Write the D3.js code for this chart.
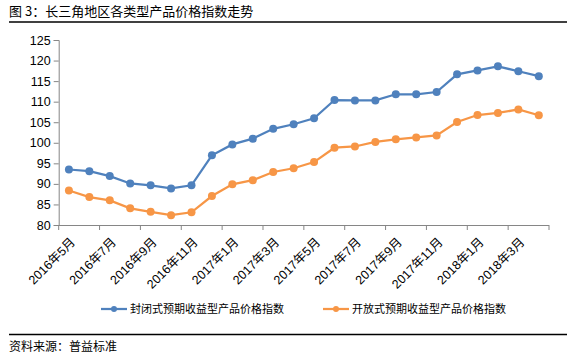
<!DOCTYPE html>
<html lang="zh">
<head>
<meta charset="UTF-8">
<title>长三角地区各类型产品价格指数走势</title>
<script src="https://d3js.org/d3.v7.min.js"></script>
<style>
  body { margin: 0; background: #fff; }
  svg text { font-family: "Noto Sans CJK SC", "Liberation Sans", sans-serif; }
</style>
</head>
<body>
<div id="chart"></div>
<script>
// months 2016-05 .. 2018-04
const months = [
  "2016年5月","2016年6月","2016年7月","2016年8月","2016年9月","2016年10月","2016年11月","2016年12月",
  "2017年1月","2017年2月","2017年3月","2017年4月","2017年5月","2017年6月","2017年7月","2017年8月",
  "2017年9月","2017年10月","2017年11月","2017年12月",
  "2018年1月","2018年2月","2018年3月","2018年4月"
];
const closedIdx = [93.5, 93.1, 91.9, 90.1, 89.65, 88.9, 89.65, 96.95,
  99.6, 101.0, 103.4, 104.5, 105.95, 110.4, 110.3, 110.3, 111.8, 111.8, 112.35, 116.65,
  117.6, 118.6, 117.4, 116.2];
const openIdx = [88.4, 86.8, 86.0, 84.05, 83.2, 82.4, 83.1, 87.05,
  89.9, 90.9, 92.9, 93.8, 95.3, 98.8, 99.1, 100.2, 100.85, 101.3, 101.8, 105.05,
  106.75, 107.25, 108.1, 106.7];
const seriesNames = ["封闭式预期收益型产品价格指数", "开放式预期收益型产品价格指数"];
const colors = ["#4F81BD", "#F79646"];
const yTicks = [80, 85, 90, 95, 100, 105, 110, 115, 120, 125];

const W = 580, H = 361;
const svg = d3.select("#chart").append("svg").attr("width", W).attr("height", H);

// title + rules
svg.append("text").attr("x", 9).attr("y", 16)
  .attr("font-size", 13).attr("fill", "#000")
  .text("图 3：长三角地区各类型产品价格指数走势");
svg.append("line").attr("x1", 9).attr("x2", 567).attr("y1", 22).attr("y2", 22)
  .attr("stroke", "#000").attr("stroke-width", 1.5);
svg.append("line").attr("x1", 9).attr("x2", 567).attr("y1", 334.5).attr("y2", 334.5)
  .attr("stroke", "#000").attr("stroke-width", 1.5);
svg.append("text").attr("x", 9).attr("y", 351)
  .attr("font-size", 12).attr("fill", "#000")
  .text("资料来源：普益标准");

// scales
const x = d3.scaleBand().domain(d3.range(months.length)).range([58.7, 549]).padding(0);
const y = d3.scaleLinear().domain([80, 125]).range([225, 40]);
const cx = i => x(i) + x.bandwidth() / 2;

// y axis
const yAxis = svg.append("g").attr("transform", "translate(58.7,0)")
  .call(d3.axisLeft(y).tickValues(yTicks).tickSize(5).tickPadding(3));
yAxis.select(".domain").attr("stroke", "#868686");
yAxis.selectAll(".tick line").attr("stroke", "#868686");
yAxis.selectAll(".tick text").attr("font-size", 12.5).attr("fill", "#000")
  .style("font-family", "'Liberation Sans', sans-serif");

// x axis: ticks every two months at band boundaries
const xg = svg.append("g");
xg.append("line").attr("x1", 58.7).attr("x2", 549).attr("y1", 225.5).attr("y2", 225.5)
  .attr("stroke", "#868686");
const tickIdx = d3.range(0, months.length + 1, 2);
xg.selectAll("line.tk").data(tickIdx).join("line").attr("class", "tk")
  .attr("x1", i => i < months.length ? x(i) : x.range()[1])
  .attr("x2", i => i < months.length ? x(i) : x.range()[1])
  .attr("y1", 225).attr("y2", 230).attr("stroke", "#868686");
xg.selectAll("text").data(d3.range(0, months.length, 2)).join("text")
  .attr("text-anchor", "end").attr("font-size", 12.5).attr("fill", "#000")
  .style("font-family", "'Liberation Sans', 'Noto Sans CJK SC', sans-serif")
  .attr("transform", i => `translate(${cx(i) + 7},${243}) rotate(-45)`)
  .text(i => months[i]);

// lines
const line = d3.line().x((d, i) => cx(i)).y(d => y(d));
[closedIdx, openIdx].forEach((vals, s) => {
  svg.append("path").datum(vals).attr("d", line)
    .attr("fill", "none").attr("stroke", colors[s]).attr("stroke-width", 2.25);
  svg.append("g").selectAll("circle").data(vals).join("circle")
    .attr("cx", (d, i) => cx(i)).attr("cy", d => y(d)).attr("r", 4)
    .attr("fill", colors[s]);
});

// legend
const legX = [101, 323];
seriesNames.forEach((name, s) => {
  const g = svg.append("g").attr("transform", `translate(${legX[s]},309)`);
  g.append("line").attr("x1", 0).attr("x2", 26).attr("stroke", colors[s]).attr("stroke-width", 2.25);
  g.append("circle").attr("cx", 13).attr("r", 3).attr("fill", colors[s]);
  g.append("text").attr("x", 29).attr("y", 4).attr("font-size", 11).attr("fill", "#000").text(name);
});
</script>
</body>
</html>
